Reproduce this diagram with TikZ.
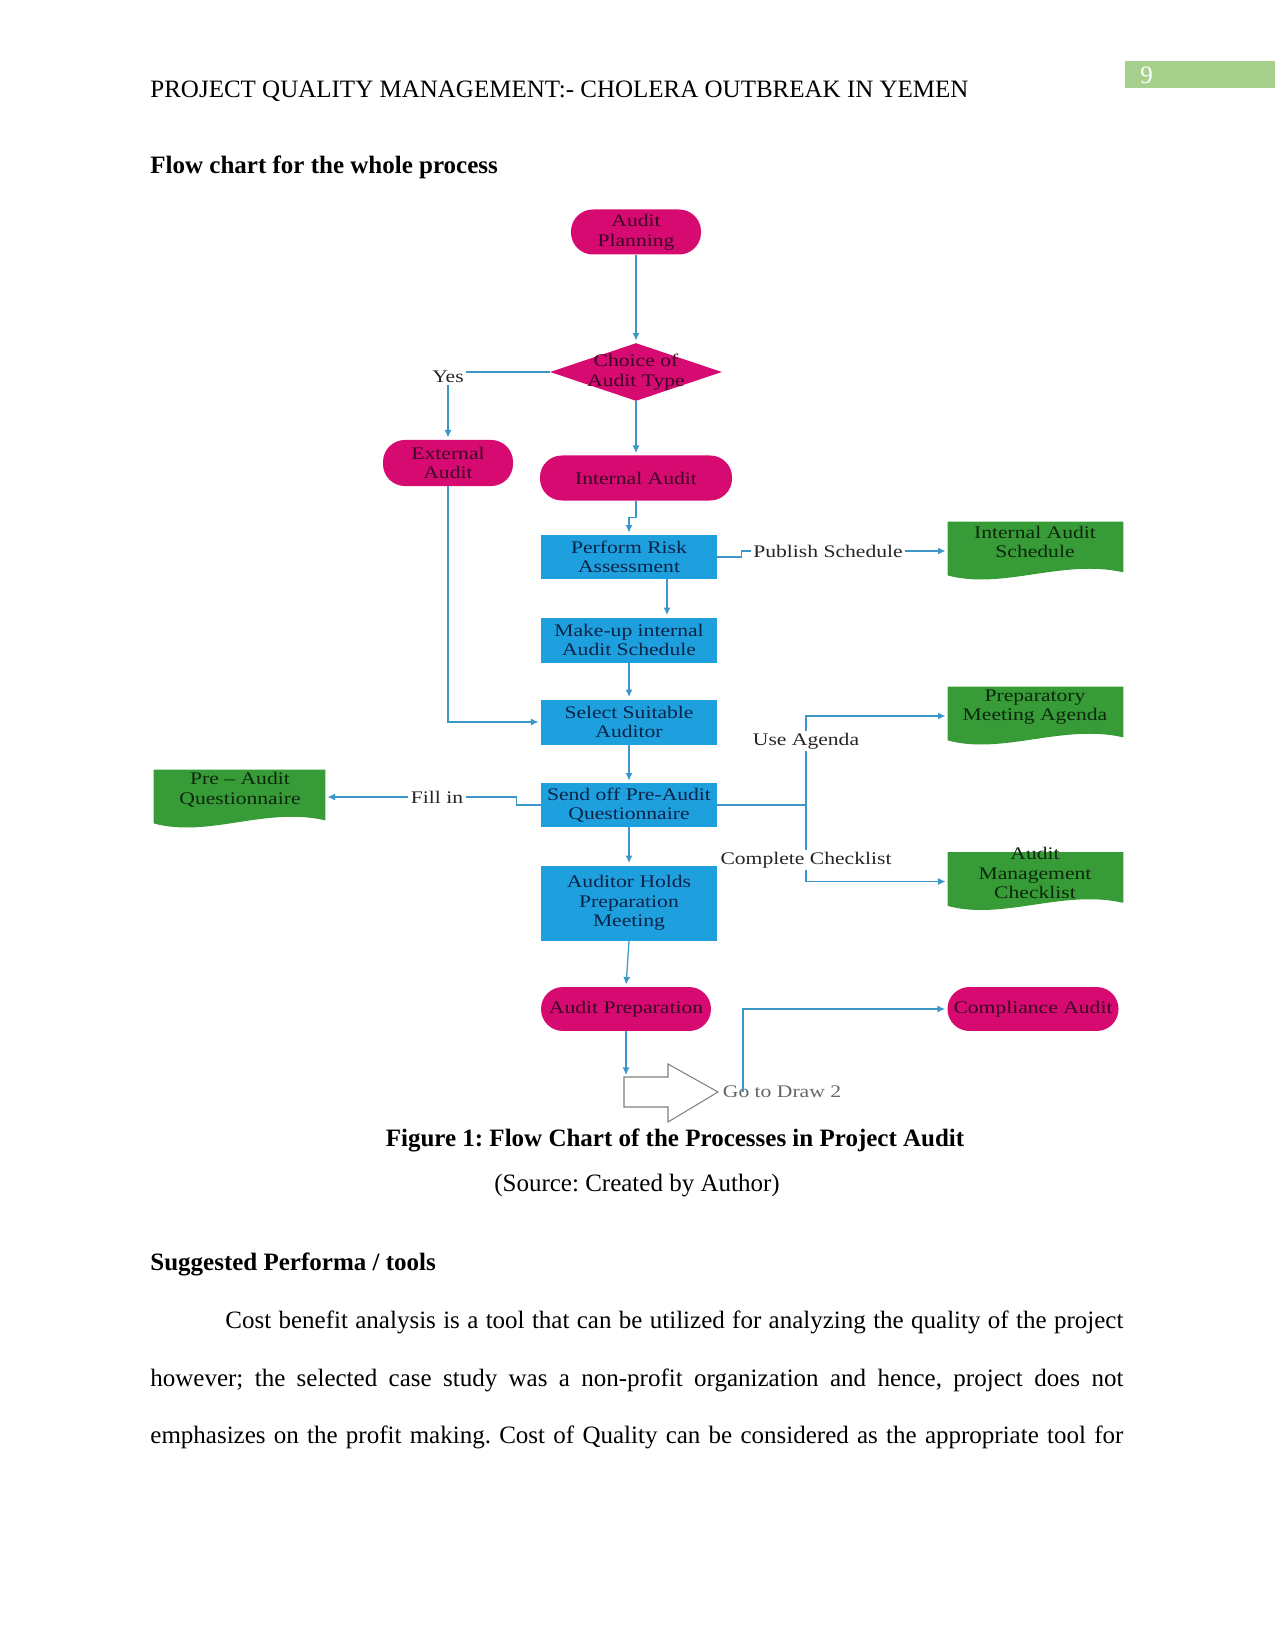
\documentclass[tikz,border=0pt]{standalone}
\usepackage{fontspec}
\setmainfont{Liberation Serif}
\newfontfamily\nf[FakeStretch=1.22]{Liberation Serif}
\usetikzlibrary{calc,arrows.meta,shapes.geometric}
\definecolor{mag}{RGB}{214,10,112}
\definecolor{magtext}{RGB}{60,6,38}
\definecolor{boxblue}{RGB}{30,160,222}
\definecolor{bluetext}{RGB}{10,35,72}
\definecolor{docgreen}{RGB}{55,155,55}
\definecolor{greentext}{RGB}{12,40,12}
\definecolor{conncol}{RGB}{60,150,200}
\definecolor{hdrgreen}{RGB}{168,208,141}
\newcommand\docshape[1]{\fill[docgreen] (#1.north west) -- (#1.north east) -- ($(#1.south east)+(0,-8)$) .. controls ($(#1.south east)+(-60,-22)$) and ($(#1.south west)+(55,10)$) .. ($(#1.south west)+(0,-5)$) -- cycle;}
\frenchspacing
\begin{document}
\begin{tikzpicture}[x=0.48pt,y=-0.48pt,
 every node/.style={font=\nf\fontsize{8.5}{9.4}\selectfont, align=center},
 stadium/.style={rectangle, rounded corners=10.5pt, fill=mag, text=magtext, inner sep=1pt},
 procbox/.style={rectangle, fill=boxblue, text=bluetext, inner sep=1pt, minimum width=84.5pt},
 docnode/.style={rectangle, inner sep=0pt, minimum width=84pt, minimum height=27.8pt},
 doctext/.style={text=greentext, inner sep=0pt},
 lbl/.style={text=black!85, fill=white, inner sep=1pt},
 line/.style={draw=conncol, line width=0.6pt},
 conn/.style={line, -{Latex[length=3.6pt,width=3.4pt]}, shorten >=1pt},
 body/.style={font=\rmfamily\fontsize{12}{14}\selectfont, anchor=base west, inner sep=0pt, align=left},
 bodyc/.style={font=\rmfamily\fontsize{12}{14}\selectfont, anchor=base, inner sep=0pt}
]
\fill[white] (0,0) rectangle (1275,1650);
\useasboundingbox (0,0) rectangle (1275,1650);

% page header
\fill[hdrgreen] (1125,61) rectangle (1275,88);
\node[body, text=white] (pagenum) at (1140,84) {9};
\node[body] (header) at (150,98) {PROJECT QUALITY MANAGEMENT:- CHOLERA OUTBREAK IN YEMEN};
\node[body] (title) at (150,174) {\bfseries Flow chart for the whole process};

% flowchart nodes
\node[stadium, minimum width=62.4pt, minimum height=21.6pt] (plan) at (636,232) {Audit\\Planning};
\node[diamond, fill=mag, minimum width=82.6pt, minimum height=27.8pt, inner sep=0pt] (choice) at (636,372) {};
\node[text=magtext] (choicetext) at (636,372) {Choice of\\Audit Type};
\node[stadium, minimum width=62.4pt, minimum height=22.1pt] (ext) at (448,463) {External\\Audit};
\node[stadium, minimum width=92.2pt, minimum height=21.6pt] (int) at (636,478) {Internal Audit};
\node[procbox, minimum height=21.1pt] (risk) at (629,557) {Perform Risk\\Assessment};
\node[procbox, minimum height=21.6pt] (make) at (629,640) {Make-up internal\\Audit Schedule};
\node[procbox, minimum height=21.6pt] (select) at (629,722) {Select Suitable\\Auditor};
\node[procbox, minimum height=21.1pt] (send) at (629,805) {Send off Pre-Audit\\Questionnaire};
\node[procbox, minimum height=36pt] (holds) at (629,903) {Auditor Holds\\Preparation\\Meeting};
\node[stadium, minimum width=81.6pt, minimum height=21.1pt] (prep) at (626,1009) {Audit Preparation};
\node[stadium, minimum width=82.1pt, minimum height=21.1pt] (comp) at (1033,1009) {Compliance Audit};

% documents
\node[docnode] (ias) at (1035.5,551) {};
\node[docnode] (pma) at (1035.5,716) {};
\node[docnode] (amc) at (1035.5,881.5) {};
\node[docnode, minimum width=82.1pt] (paq) at (239.5,799) {};
\docshape{ias}
\docshape{pma}
\docshape{amc}
\docshape{paq}
\node[doctext] (iastext) at (1035,542) {Internal Audit\\Schedule};
\node[doctext] (pmatext) at (1035,707) {Preparatory\\Meeting Agenda};
\node[doctext] (amctext) at (1035,873) {Audit\\Management\\Checklist};
\node[doctext] (paqtext) at (240,790) {Pre – Audit\\Questionnaire};

% big outline arrow
\coordinate (bigarrow) at (624,1077);
\draw[gray, line width=0.5pt] (bigarrow) -- (668,1077) -- (668,1064) -- (718,1092) -- (668,1122) -- (668,1107) -- (624,1107) -- cycle;

% connectors
\draw[conn] (plan) -- (choice);
\draw[conn] (choice.west) -| (ext.north);
\node[lbl] (yes) at ($(choice.west -| ext.north)+(0,5)$) {Yes};
\draw[conn] (choice) -- (int);
\draw[conn] (int.south) |- ($(int.south)!.5!(risk.north)$) -| (risk.north);
\node[lbl] (pub) at (828,551) {Publish Schedule};
\draw[line] (risk.east) -| ($(pub.west)+(-9,0)$) -- (pub.west);
\draw[conn] (pub.east) -- (pub.east -| ias.west);
\draw[conn] ($(risk.south)+(38,0)$) -- ($(make.north)+(38,0)$);
\draw[conn] (make) -- (select);
\draw[conn] (ext.south) |- (select.west);
\draw[conn] (select) -- (send);
\node[lbl] (fill) at (437,797) {Fill in};
\draw[line] (send.west) -- ++(-24,0) |- (fill.east);
\draw[conn] (fill.west) -- (fill.west -| paq.east);
\coordinate (branch) at (806,805);
\draw[line] (send.east) -- (branch);
\draw[conn] (branch) |- (pma.west);
\draw[conn] (branch) |- (amc.west);
\node[lbl] (useag) at (806,741) {Use Agenda};
\node[lbl] (compchk) at (806,860) {Complete Checklist};
\draw[conn] (send) -- (holds);
\draw[conn] (holds.south) -- (prep.north);
\draw[conn] (prep.south) -- (prep.south |- bigarrow);
\node[text=black!60, inner sep=0pt] (goto) at (782,1092) {Go to Draw 2};
\coordinate (gostart) at (743,1092);
\draw[conn] (gostart) |- (comp.west);

% caption and body text
\node[bodyc] (caption) at (675,1146) {\bfseries Figure 1: Flow Chart of the Processes in Project Audit};
\node[bodyc] (source) at (637,1191) {(Source: Created by Author)};
\node[body] (sugg) at (150,1270) {\bfseries Suggested Performa / tools};
\node[body] (line1) at (225,1328) {\makebox[431pt][s]{Cost benefit analysis is a tool that can be utilized for analyzing the quality of the project}};
\node[body] (line2) at (150,1386) {\makebox[467pt][s]{however; the selected case study was a non-profit organization and hence, project does not}};
\node[body] (line3) at (150,1443) {\makebox[467pt][s]{emphasizes on the profit making. Cost of Quality can be considered as the appropriate tool for}};
\end{tikzpicture}
\end{document}
